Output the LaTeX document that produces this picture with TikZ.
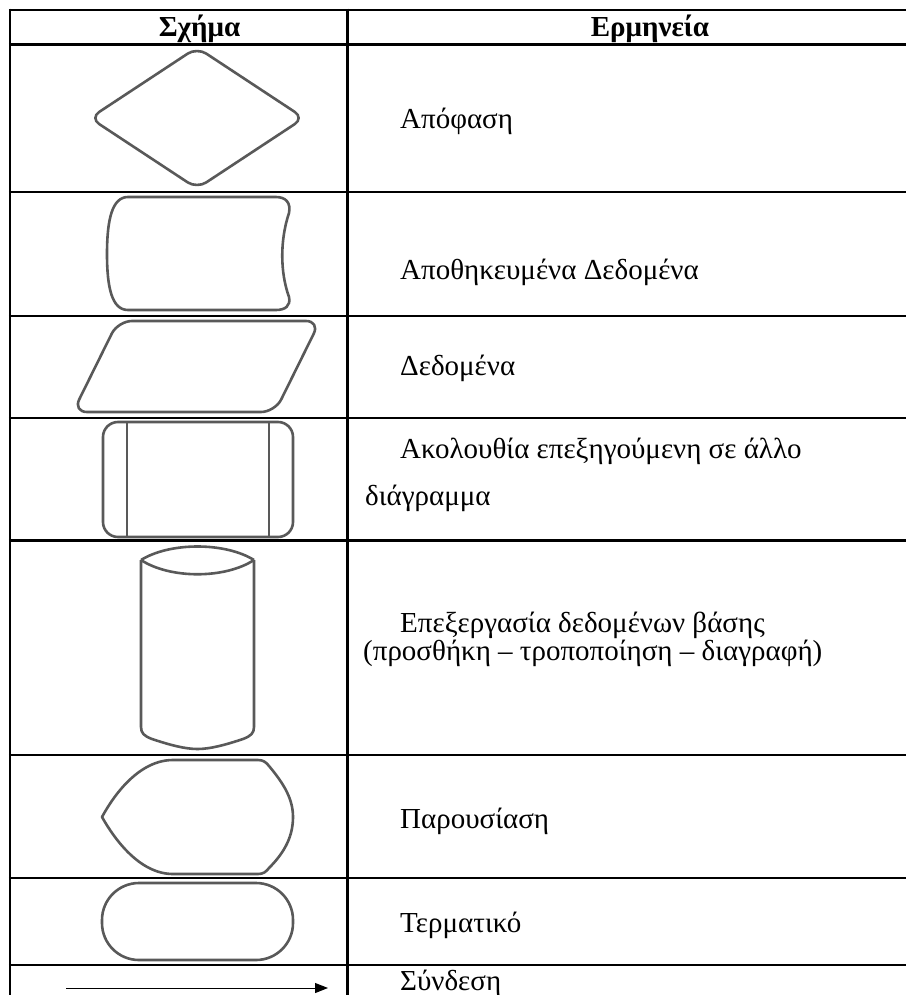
\documentclass[tikz,border=0pt]{standalone}
\usepackage{fontspec}
\setmainfont{Liberation Serif}
\usetikzlibrary{arrows.meta}
\definecolor{shapegray}{HTML}{595959}
\begin{document}
\begin{tikzpicture}[x=1pt,y=-1pt,
  rule/.style={line width=2.5pt, draw=black},
  symbol/.style={draw=shapegray, line width=2.6pt, line join=round},
  desc/.style={anchor=base west, inner sep=0pt, font=\fontsize{29}{33}\selectfont},
  head/.style={anchor=base, inner sep=0pt, font=\fontsize{29}{33}\selectfont\bfseries}]
\useasboundingbox (0,0) rectangle (905,995);

% table rules
\foreach \y in {10,44.5,192,316,418,540.5,755,878,965}
  \draw[rule] (8.75,\y) -- (906,\y);
\draw[rule] (10,8.75) -- (10,996);
\draw[rule] (347.5,8.75) -- (347.5,996);

% header
\node[head] (h1) at (199.5,37) {Σχήμα};
\node[head] (h2) at (650,37) {Ερμηνεία};

% decision
\draw[symbol, rounded corners=11pt] (90,118) -- (197,47.5) -- (304,118) -- (197,188.5) -- cycle;
\node[desc] (t1) at (400,129) {Απόφαση};

% stored data
\draw[symbol] (128,197) -- (276,197)
  .. controls (286,197) and (291,203) .. (289,213)
  .. controls (280,240) and (280,272) .. (289,297)
  .. controls (291,306) and (285,310) .. (276,310)
  -- (128,310)
  .. controls (112,310) and (107,288) .. (107,254)
  .. controls (107,220) and (112,197) .. (128,197) -- cycle;
\node[desc] (t2) at (400,279) {Αποθηκευμένα Δεδομένα};

% data
\draw[symbol, rounded corners=14pt] (73,412) -- (118,321) -- (320,321) -- (275,412) -- cycle;
\node[desc] (t3) at (400,375) {Δεδομένα};

% predefined process
\draw[symbol, rounded corners=15pt] (103,422) rectangle (293,537);
\draw[symbol] (127,422) -- (127,537);
\draw[symbol] (269,422) -- (269,537);
\node[desc] (t4a) at (400,458) {Ακολουθία επεξηγούμενη σε άλλο};
\node[desc] (t4b) at (365,505) {διάγραμμα};

% database
\draw[symbol] (141,560) .. controls (170,542) and (225,542) .. (254,560);
\draw[symbol] (141,560) .. controls (170,579) and (225,579) .. (254,560);
\draw[symbol] (141,560) -- (141,727)
  .. controls (141,733) and (144,736) .. (152,739)
  .. controls (170,745) and (185,749) .. (197.5,749)
  .. controls (210,749) and (225,745) .. (243,739)
  .. controls (251,736) and (254,733) .. (254,727) -- (254,560);
\node[desc] (t5a) at (400,632) {Επεξεργασία δεδομένων βάσης};
\node[desc] (t5b) at (363,660) {(προσθήκη – τροποποίηση – διαγραφή)};

% display
\draw[symbol] (173,760) -- (258,760)
  .. controls (263,760) and (266,762) .. (269,766)
  .. controls (285,785) and (293,800) .. (293,817)
  .. controls (293,836) and (285,852) .. (269,868)
  .. controls (266,872) and (263,874) .. (258,874)
  -- (173,874)
  .. controls (140,874) and (115,840) .. (102,817)
  .. controls (115,793) and (140,760) .. (173,760) -- cycle;
\node[desc] (t6) at (400,828) {Παρουσίαση};

% terminal
\draw[symbol, rounded corners=37pt] (102,883) rectangle (293,960);
\node[desc] (t7) at (400,932) {Τερματικό};

% connector
\coordinate (a0) at (66,988);
\coordinate (a1) at (328,988);
\draw[line width=1pt, -{Triangle[length=13pt,width=10pt]}] (a0) -- (a1);
\node[desc] (t8) at (400,990) {Σύνδεση};
\end{tikzpicture}
\end{document}
